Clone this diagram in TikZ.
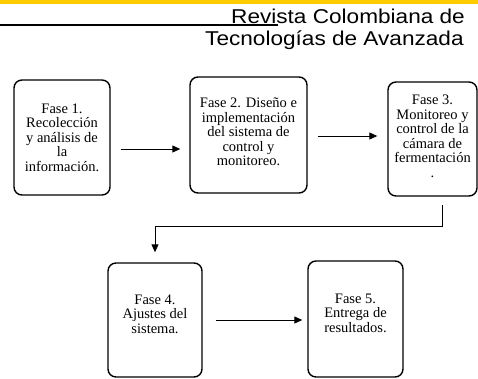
\documentclass[tikz,border=0pt]{standalone}
\usepackage{fontspec}
\setmainfont{Liberation Serif}
\newfontfamily\cabecera{Liberation Sans}
\usetikzlibrary{arrows.meta,positioning}
\definecolor{amarillo}{RGB}{255,204,0}
\newcommand{\ancho}[1]{\scalebox{1.13}[1]{#1}}
\begin{document}
\begin{tikzpicture}[x=1pt,y=-1pt,
	fase/.style={draw,rounded corners=8pt,line width=1.4pt,inner sep=0pt,align=center,
		font=\fontsize{14.5}{14.5}\selectfont},
	flecha/.style={-{Triangle[length=8pt,width=7pt]},line width=0.9pt},
	titulo/.style={anchor=base west,inner sep=0pt,font=\cabecera\fontsize{20}{22}\selectfont}]
	\useasboundingbox (0,0) rectangle (478,378);
	% cabecera
	\fill[amarillo] (0,0) rectangle (478,4);
	\node[titulo] (rev) at (231,23) {\ancho{Revista Colombiana de}};
	\node[titulo] (tec) at (205,45) {\ancho{Tecnologías de Avanzada}};
	\draw[line width=1.4pt] (0,25) -- (278,25);

	% fases
	\node[fase,minimum width=96pt,minimum height=115pt] (f1) at (62,137.5)
		{Fase 1.\\Recolección\\y análisis de\\la\\información.};
	\node[fase,minimum width=117pt,minimum height=116pt,text depth=6pt] (f2) at (248.5,135)
		{Fase 2. Diseño e\\implementación\\del sistema de\\control y\\monitoreo.};
	\node[fase,minimum width=89pt,minimum height=114pt,text depth=6pt] (f3) at (432.5,139)
		{Fase 3.\\Monitoreo y\\control de la\\cámara de\\fermentación\\.};
	\node[fase,minimum width=94pt,minimum height=114pt,text depth=12pt] (f4) at (155,320)
		{Fase 4.\\Ajustes del\\sistema.};
	\node[fase,minimum width=95pt,minimum height=116pt,text depth=12pt] (f5) at (355.5,319)
		{Fase 5.\\Entrega de\\resultados.};

	\draw[flecha,shorten <=10pt,shorten >=9pt] ([yshift=-11.5pt]f1.east) -- ([yshift=-11.5pt]f1.east -| f2.west);
	\draw[flecha,shorten <=10pt,shorten >=10pt] ([yshift=-1pt]f2.east) -- ([yshift=-1pt]f2.east -| f3.west);
	\coordinate (ini) at (442,205);
	\draw[flecha,shorten >=10pt] (ini) -- ++(0,21) -| (f4.north);
	\draw[flecha,shorten <=13pt,shorten >=5pt] (f4.east) -- (f4.east -| f5.west);
\end{tikzpicture}
\end{document}
